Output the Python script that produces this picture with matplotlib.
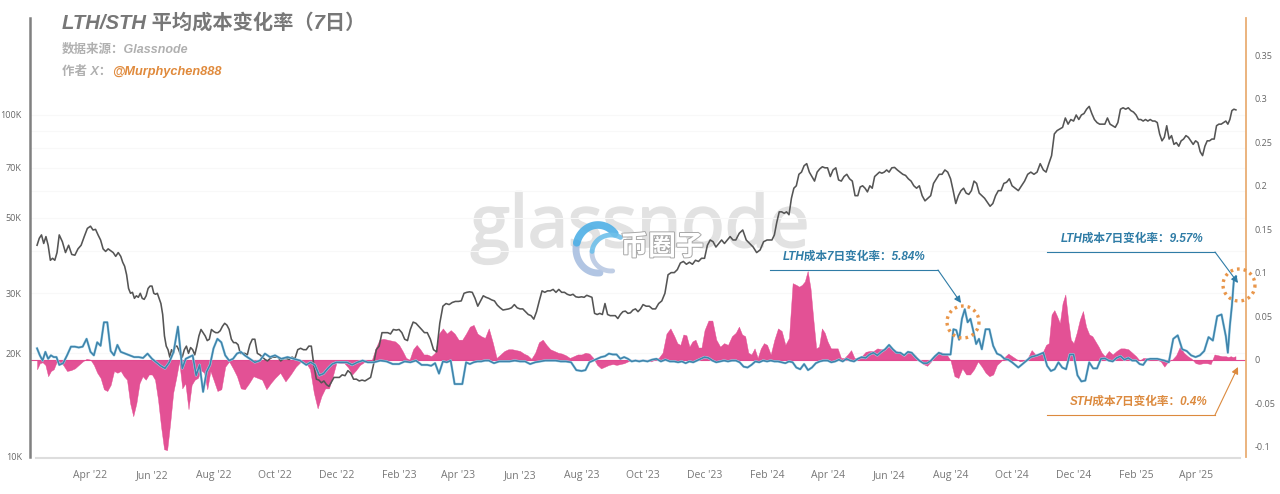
import numpy as np
import pandas as pd
import matplotlib
matplotlib.use("Agg")
import matplotlib.pyplot as plt
import matplotlib.patheffects as pe

# values, month by month, spread evenly inside each month
data_start = pd.Timestamp("2022-02-07")
data_end = pd.Timestamp("2025-05-13")

price_k = {
    "2022-02": [41.5, 43.5, 44.5, 42, 44, 41.5, 37.5, 38, 37.5, 39.5],
    "2022-03": [44.5, 42.5, 39.5, 41.5, 39, 38.8, 40.5, 41.5, 44, 46.5],
    "2022-04": [47.2, 46, 46.2, 44.5, 43, 40.5, 39.8, 40.5, 40, 39.5, 38.5, 39.5],
    "2022-05": [38.5, 37, 36, 34, 31, 30, 30.2, 29, 29.5, 29.2, 30, 29, 28.8, 29.5, 31, 31.5],
    "2022-06": [31.5, 30, 29.8, 30, 29, 28, 26, 22.5, 21, 20.5, 19.5, 20.5, 20, 21, 21, 20.5, 19.8],
    "2022-07": [19.5, 20.5, 21, 20, 20.8, 20.5, 19.8, 21, 22.5, 23.5, 23, 22.5, 21.8, 22, 23.5],
    "2022-08": [23.2, 23, 23, 23.3, 24, 24.5, 24.2, 23.5, 22, 21.5, 21.5, 21.2, 20, 20],
    "2022-09": [20, 19.8, 21.2, 22, 22, 20, 19.8, 19.5, 19.2, 19, 19.3, 19.5],
    "2022-10": [19.5, 19.5, 19, 19.3, 19.3, 19.2, 19.5, 19.3, 20.5, 20.7, 20.5],
    "2022-11": [20.5, 21, 21, 18.5, 16.8, 16.7, 16.4, 16.6, 16.2, 16, 16.5, 17],
    "2022-12": [17, 17, 17.3, 17.2, 17.8, 17.5, 16.8, 16.8, 16.6, 16.7, 16.6],
    "2023-01": [16.8, 17, 18.5, 20.5, 21, 23, 23, 23, 22.8, 23.5, 23.4],
    "2023-02": [23.5, 23, 22, 21.8, 23.5, 24.7, 24.5, 24, 23.5, 23],
    "2023-03": [23, 22, 20.5, 20.2, 24.5, 27.5, 28, 27.8, 28.2, 28.4],
    "2023-04": [28.4, 28.5, 30, 30.2, 30.3, 30.2, 29, 27.5, 28.5, 29.5, 29.2],
    "2023-05": [29, 28.7, 28.5, 27.7, 27.2, 26.8, 26.9, 27, 27.2, 27.8, 27.2],
    "2023-06": [27, 27, 26.5, 26, 25.8, 25.2, 26.5, 28.5, 30.5, 30.2, 30.5],
    "2023-07": [30.5, 30.8, 30.2, 30.8, 30.2, 30.2, 29.8, 29.6, 29.8, 29.3, 29.2],
    "2023-08": [29.3, 29.2, 29.6, 29.4, 29.2, 26.2, 26, 26.2, 26, 28, 26, 25.8],
    "2023-09": [25.8, 25.8, 25.3, 26, 26.5, 26.6, 26.2, 26.3, 26.8, 27, 26.5, 27],
    "2023-10": [27.8, 27.5, 27.5, 27, 27, 28, 28.5, 30, 34, 34.5],
    "2023-11": [34.5, 35.2, 36.8, 37.2, 36.5, 37, 36.5, 37.5, 37.2, 38],
    "2023-12": [38, 41.5, 43, 42.5, 41, 42, 43, 42, 43, 44, 43],
    "2024-01": [43, 45, 46, 43, 42, 41, 39.5, 40.2, 42.5],
    "2024-02": [43, 43, 43, 44.5, 48.5, 52, 52, 51.5, 52, 51, 57, 61],
    "2024-03": [62, 67, 68, 71, 72, 68, 66, 64, 68, 69.5, 70.5, 70],
    "2024-04": [70, 66, 69, 70, 64.5, 64, 66, 67, 65, 64, 58],
    "2024-05": [58, 61.5, 62, 61, 59.5, 62, 61, 66, 67, 68, 67.5, 68, 69],
    "2024-06": [68, 70, 70.2, 69, 68, 67, 66.5, 65, 64, 62, 61],
    "2024-07": [62, 58, 56, 57, 58, 63, 65, 67, 67, 69, 68],
    "2024-08": [65, 60, 55, 58, 60, 61, 59, 58.5, 60, 64, 63, 59],
    "2024-09": [58, 57, 55.5, 54, 55, 58, 60, 60, 63, 63.5, 65],
    "2024-10": [62, 61, 60, 62, 64, 67, 68, 67, 68, 72],
    "2024-11": [69, 68, 72, 76, 88, 90, 91, 92, 98, 94, 97],
    "2024-12": [96, 100, 97, 100, 101, 104, 106, 101, 97, 95, 94, 94],
    "2025-01": [94, 98, 94, 93, 92, 95, 104, 105, 104, 105, 103, 102],
    "2025-02": [100, 97, 97, 96, 97, 96, 97, 96, 96, 95, 88, 84],
    "2025-03": [86, 93, 85, 87, 82, 83, 81, 84, 85, 87, 86, 84, 82],
    "2025-04": [84, 83, 78, 76, 81, 84, 84, 85, 85, 93, 94, 94, 95],
    "2025-05": [96, 94, 97, 103, 104, 103.5],
}

sth_change = {
    "2022-02": [-.011, -.004, -.003, -.006, -.019, -.013, -.011, -.003],
    "2022-03": [-.002, -.006, -.013, -.012, -.01, -.006, -.002, .001],
    "2022-04": [0, -.006, -.015, -.021, -.034, -.036, -.029, -.013, -.015],
    "2022-05": [-.013, -.019, -.023, -.05, -.065, -.05, -.027, -.019, -.023, -.017],
    "2022-06": [-.017, -.023, -.046, -.077, -.103, -.104, -.073, -.038, -.021, -.002],
    "2022-07": [-.033, -.027, -.057, -.029, -.023, -.021, -.012, -.015, -.034, -.013],
    "2022-08": [-.023, -.036, -.034, -.008, -.002, -.01, -.019, -.033],
    "2022-09": [-.034, -.027, -.019, -.021, -.023, -.034, -.027],
    "2022-10": [-.021, -.015, -.025, -.017, -.008, -.002],
    "2022-11": [-.004, -.011, -.038, -.056, -.042, -.033, -.033, -.019],
    "2022-12": [-.003, -.004, -.004, -.009, -.017, -.012, -.006, -.003],
    "2023-01": [-.003, -.001, .013, .023, .024, .023, .022, .021],
    "2023-02": [.017, .01, .002, 0, .012, .017, .012, .006],
    "2023-03": [.006, .004, .008, .03, .036, .03, .034, .03],
    "2023-04": [.023, .023, .03, .038, .04, .03, .027, .025],
    "2023-05": [.036, .02, .002, .006, .01, .012, .012, .011],
    "2023-06": [.01, .007, .005, .001, .008, .02, .023, .017],
    "2023-07": [.012, .01, .008, .007, .005, .002, .004, .006],
    "2023-08": [.006, .008, .007, .002, -.006, -.01, -.008, -.006],
    "2023-09": [-.005, -.006, -.005, -.004, -.002, -.001, -.001, -.001],
    "2023-10": [-.001, -.001, -.002, 0, .002, .008, .03, .036],
    "2023-11": [.027, .019, .017, .029, .028, .015, .021, .023, .014, .014],
    "2023-12": [.034, .045, .045, .023, .015, .019, .017, .027],
    "2024-01": [.031, .038, .029, .027, .008, .006, .013, .002, .013, .019],
    "2024-02": [.017, .006, .023, .036, .033, .017, .025, .088],
    "2024-03": [.086, .084, .086, .09, .102, .082, .046, .013, .015, .036, .031],
    "2024-04": [.021, .013, .013, .013, .002, .002, .006, .011, .002],
    "2024-05": [.002, .004, .009, .01, .01, .013, .012, .013],
    "2024-06": [.015, .012, .01, .008, .004, .008, .009, .005],
    "2024-07": [-.001, -.005, -.007, -.002, .005, .009, .008, .006],
    "2024-08": [-.001, -.019, -.021, -.01, -.017, -.017, -.011, -.002],
    "2024-09": [-.008, -.015, -.019, -.017, -.006, -.002, .003, .007],
    "2024-10": [.004, .001, -.002, -.001, .002, .011, .006, .007],
    "2024-11": [.01, .017, .019, .052, .057, .05, .042, .065, .075, .046, .023],
    "2024-12": [.019, .031, .046, .056, .038, .029, .027, .021, .015, .008],
    "2025-01": [.004, .01, .006, .01, .013, .013, .012, .008],
    "2025-02": [.004, -.001, .002, .002, .002, .001, 0, -.002],
    "2025-03": [-.008, -.002, 0, .005, .015, .008, .004, .001],
    "2025-04": [-.004, -.005, -.004, -.004, -.005, .006, .005, .004],
    "2025-05": [.004, .003, .004, .003, .004],
}

lth_change = {
    "2022-02": [.013, .005, -.001, .009, .001, .005, .003, .003],
    "2022-03": [-.006, -.004, .005, .015, .015, .014, .015, .024],
    "2022-04": [.009, .005, .02, .016, .043, .043, .01, .005, .017],
    "2022-05": [.009, .007, .005, .003, .003, .002, .007],
    "2022-06": [.001, -.003, -.007, -.01, -.003, .009, .038],
    "2022-07": [-.01, .001, .003, .005, -.018, -.006, -.037, -.014, -.006],
    "2022-08": [.013, .024, .02, .005, -.001, .001, .007, .009],
    "2022-09": [.005, .001, -.003, -.001, .007, .003],
    "2022-10": [.005, .001, .003, .001, -.001],
    "2022-11": [-.006, -.003, -.006, -.018, -.016, -.01, -.005],
    "2022-12": [-.003, -.003, -.003, -.006, -.003, -.001],
    "2023-01": [-.003, -.003, -.001, -.002, -.005],
    "2023-02": [-.005, -.002, -.003, -.001, -.006],
    "2023-03": [-.006, -.007, -.004, -.016, -.002, -.003, -.001, -.028],
    "2023-04": [-.028, -.028, -.003, -.005, -.003, -.002, -.002, -.001],
    "2023-05": [-.001, -.004, -.002, -.002, -.002, -.001],
    "2023-06": [-.002, -.002, -.005, -.003, -.002, -.001],
    "2023-07": [-.001, -.001, -.002, -.002, -.003, -.012],
    "2023-08": [-.013, -.012, -.003, -.001, .001, .003, .004, .007],
    "2023-09": [.006, .006, .001, .003, .001, -.002, -.001, -.002],
    "2023-10": [-.001, -.002, 0, .001, -.002, 0, -.002],
    "2023-11": [-.002, -.003, -.002, -.004, -.002, -.003, -.001, .001],
    "2023-12": [.003, .002, -.001, -.003, -.002, -.001, -.002, -.001],
    "2024-01": [-.001, -.003, -.008, -.009, -.006, -.002, -.003, -.001],
    "2024-02": [-.002, -.001, -.002, -.002, -.003, -.004, -.002, -.003],
    "2024-03": [-.009, -.011, -.005, -.012, -.009, -.004, -.002, -.001],
    "2024-04": [-.001, -.003, -.002, 0, -.002, .001, -.001, -.002],
    "2024-05": [.001, .003, .002, .006, .008, .005, .009, .012],
    "2024-06": [.017, .012, .008, .008, .005, .009, .008, .003],
    "2024-07": [-.001, -.004, -.004, -.001, .004, .008, .006, .006],
    "2024-08": [.006, .035, .034, .023, .047, .058, .043, .047, .033, .018, .024],
    "2024-09": [.012, .035, .035, .016, .007, .005, .001, 0],
    "2024-10": [-.003, -.009, -.003, .003, .005],
    "2024-11": [.008, -.007, -.013, -.011, -.003, -.009, -.011, .006],
    "2024-12": [.006, -.018, -.025, -.024, -.003, -.01, -.01, .001],
    "2025-01": [.0015, -.001, -.002, .002, .004, 0, .002, -.001],
    "2025-02": [-.001, -.005, -.006, 0, .001, .001, .001, 0],
    "2025-03": [-.001, -.003, .024, .028, .012, .01, .005],
    "2025-04": [.003, .005, .01, .026, .022, .05, .052],
    "2025-05": [.027, .008, .039, .062, .092, .0957],
}

left_ticks = [100, 90, 80, 70, 60, 50, 40, 30, 20, 10]
left_labels = ["100K", "", "", "70K", "", "50K", "", "30K", "20K", "10K"]
right_ticks = [0.35, 0.3, 0.25, 0.2, 0.15, 0.1, 0.05, 0, -0.05, -0.1]
right_labels = ["0.35", "0.3", "0.25", "0.2", "0.15", "0.1", "0.05", "0", "-0.05", "-0.1"]
date_ticks = pd.date_range("2022-04-01", "2025-04-01", freq="2MS")


def expand(by_month):
    dates, values = [], []
    for key, vals in by_month.items():
        start = pd.Timestamp(key + "-01")
        end = start + pd.offsets.MonthBegin(1)
        start, end = max(start, data_start), min(end, data_end)
        for i, v in enumerate(vals):
            dates.append(start + (end - start) * i / len(vals))
            values.append(v)
    return pd.DatetimeIndex(dates), np.array(values, dtype=float)


W, H = 1280, 494
fig = plt.figure(figsize=(W / 100, H / 100), dpi=100, facecolor="white")
rect = [30 / W, (H - 457.5) / H, (1246 - 30) / W, (457.5 - 18) / H]
xlim = (pd.Timestamp("2022-01-31"), pd.Timestamp("2025-05-21"))

TICK_FONT = "Open Sans"
CJK = ["Liberation Sans", "Noto Sans CJK SC"]

# grid lowest, then pink area, price above it, LTH line on top
ax_grid = fig.add_axes(rect, zorder=0.5)
ax_sth = fig.add_axes(rect, zorder=1)
ax = fig.add_axes(rect, zorder=2)
ax_lth = fig.add_axes(rect, zorder=3)
for a in (ax_grid, ax_sth, ax, ax_lth):
    a.patch.set_visible(False)
    a.set_xlim(*xlim)
    for s in a.spines.values():
        s.set_visible(False)

ax_grid.set_yscale("log")
ax_grid.set_ylim(9.9, 192.5)
ax_grid.set_xticks([])
ax_grid.set_yticks([])
ax_grid.minorticks_off()
for t in left_ticks[:-1]:
    ax_grid.axhline(t, color="#f8f8f8", lw=0.8)

sth_x, sth_y = expand(sth_change)
ax_sth.fill_between(sth_x, 0, sth_y, color="#e2488f", alpha=0.95, lw=0.3)
ax_sth.set_ylim(-0.1125, 0.393)
ax_sth.yaxis.tick_right()
ax_sth.set_yticks(right_ticks, right_labels, fontsize=6.5, color="#666666", family=TICK_FONT)
ax_sth.tick_params(axis="y", length=0, pad=6)
ax_sth.spines["right"].set_visible(True)
ax_sth.spines["right"].set_color("#e9ae74")
ax_sth.spines["right"].set_linewidth(1.3)
ax_sth.set_xticks(date_ticks, [d.strftime("%b '%y") for d in date_ticks],
                  fontsize=7.5, color="#777777", family=TICK_FONT)
ax_sth.tick_params(axis="x", length=0, pad=9)
ax_sth.axhline(0, color="#e2488f", lw=0.8)

price_x, price_y = expand(price_k)
ax.plot(price_x, price_y, color="#555555", lw=1.15)
ax.set_yscale("log")
ax.set_ylim(9.9, 192.5)
ax.set_yticks(left_ticks, left_labels, fontsize=6.5, color="#666666", family=TICK_FONT)
ax.minorticks_off()
ax.tick_params(axis="y", length=0, pad=6)
ax.set_xticks([])
ax.spines["left"].set_visible(True)
ax.spines["left"].set_color("#808080")
ax.spines["left"].set_linewidth(1.8)

lth_x, lth_y = expand(lth_change)
ax_lth.plot(lth_x, lth_y, color="#3f84ab", lw=1.15,
            path_effects=[pe.withStroke(linewidth=1.8, foreground="#a9d6ea")])
ax_lth.set_ylim(-0.1125, 0.393)
ax_lth.axis("off")

# watermark under the lines
fig.text(640 / W, 1 - 228 / H, "glassnode", fontsize=52, color="#e2e2e2", family="Open Sans",
         ha="center", va="center", zorder=0,
         path_effects=[pe.withStroke(linewidth=1.5, foreground="#e2e2e2")])

# overlay in picture pixels for title, callouts and the site logo
ov = fig.add_axes([0, 0, 1, 1], zorder=5)
ov.set_xlim(0, W)
ov.set_ylim(H, 0)
ov.axis("off")

ov.plot([36, 1240], [457.5, 457.5], color="#dddddd", lw=1.5)

ov.text(62, 23, "LTH/STH 平均成本变化率（7日）", fontsize=14.6, color="#777777", family=CJK,
        style="italic", weight="bold", va="center")
ov.text(62, 50, "数据来源：Glassnode", fontsize=9, color="#b0b0b0", family=CJK,
        style="italic", weight="bold", va="center")
ov.text(62, 72, "作者 X：", fontsize=9, color="#b0b0b0", family=CJK,
        style="italic", weight="bold", va="center")
ov.text(112, 72, "@Murphychen888", fontsize=9.2, color="#e08a3c", family=CJK,
        style="italic", weight="bold", va="center")

BLUE = "#2f7ca6"
ORANGE = "#dc8a3e"


def callout(text, tx, ty, line_pts, tip, color):
    ov.text(tx, ty, text, fontsize=8.4, color=color, family=CJK, style="italic",
            weight="bold", va="center")
    xs, ys = zip(*line_pts)
    ov.plot(xs, ys, color=color, lw=0.8)
    ov.annotate("", xy=tip, xytext=line_pts[-1],
                arrowprops=dict(arrowstyle="-|>", color=color, lw=0.8, mutation_scale=10,
                                shrinkA=0, shrinkB=0))


def ring(cx, cy, r=16):
    a = np.linspace(0, 2 * np.pi, 60)
    ov.plot(cx + r * np.cos(a), cy + r * np.sin(a), color="#e9964a", lw=2.4,
            linestyle=(0, (0.8, 1.2)))


callout("LTH成本7日变化率：5.84%", 783, 257, [(770, 270), (938, 270)], (961, 303), BLUE)
callout("LTH成本7日变化率：9.57%", 1061, 239, [(1047, 252), (1215, 252)], (1238, 283), BLUE)
callout("STH成本7日变化率：0.4%", 1070, 402, [(1047, 415), (1215, 415)], (1238, 367), ORANGE)
ring(963, 322)
ring(1239, 285)


def swoosh(cx, cy, rx, ry, a0, a1, color, lw):
    a = np.radians(np.linspace(a0, a1, 60))
    ov.plot(cx + rx * np.cos(a), cy + ry * np.sin(a), color=color, lw=lw, alpha=0.9,
            solid_capstyle="round")


# site logo: two crescents, periwinkle below and blue on top
swoosh(598, 249, 22, 24, 85, 195, "#a9bfe0", 5)
swoosh(598, 249, 22, 24, 195, 320, "#4fb0e6", 5.5)
swoosh(611, 253, 19, 18, 85, 185, "#b9c9e3", 3.5)
swoosh(611, 253, 19, 18, 185, 300, "#6fc0ea", 3.5)
ov.text(662, 248, "币圈子", fontsize=20, color="white", family=CJK, weight="bold",
        ha="center", va="center",
        path_effects=[pe.withStroke(linewidth=1.4, foreground="#a8a8a8")])

fig.savefig("out.png", dpi=100)
